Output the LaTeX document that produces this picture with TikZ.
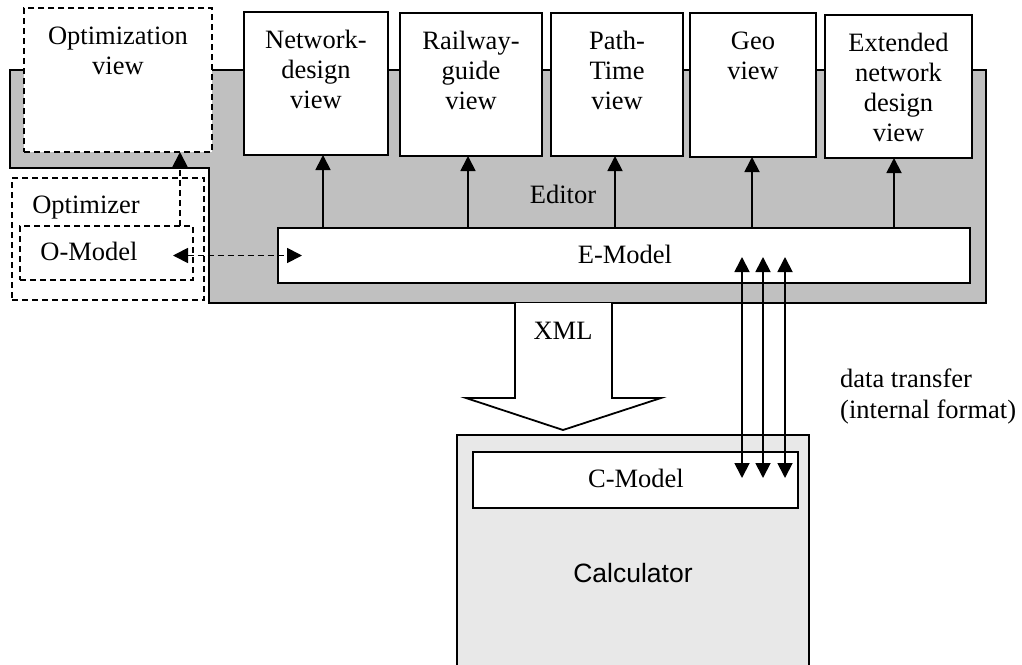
\documentclass[tikz,border=0pt]{standalone}
\usepackage{fontspec}
\setmainfont{Liberation Serif}
\setsansfont{Liberation Sans}
\usetikzlibrary{arrows.meta,calc}
\definecolor{editorgray}{HTML}{C0C0C0}
\definecolor{calcgray}{HTML}{E8E8E8}
\begin{document}
\begin{tikzpicture}[x=1pt,y=-1pt,
  font=\fontsize{26.5}{30}\selectfont,
  box/.style={draw, fill=white, rectangle, inner sep=0pt, outer sep=0pt, line width=2pt},
  dbox/.style={box, dash pattern=on 6pt off 4pt},
  obox/.style={draw, rectangle, inner sep=0pt, outer sep=0pt, line width=2pt, dash pattern=on 6pt off 4pt},
  txt/.style={inner sep=0pt, align=center},
  arr/.style={-{Triangle[length=15pt,width=15pt]}, line width=1.8pt},
  darr/.style={{Triangle[length=15pt,width=15pt]}-{Triangle[length=15pt,width=15pt]}, line width=1.8pt},
  dasharr/.style={arr, dash pattern=on 6pt off 4pt},
  ddasharr/.style={darr, dash pattern=on 6pt off 4pt}]
\useasboundingbox (0,0) rectangle (1022,664);

% Editor (gray region)
\draw[fill=editorgray, line width=2pt]
  (10,70) -- (986,70) -- (986,303) -- (209,303) -- (209,168) -- (10,168) -- cycle;

% Optimization view and optimizer
\node[dbox, minimum width=188pt, minimum height=144pt] (ov) at (118,80) {};
\node[txt, anchor=north] (ovt) at ($(ov.north)+(0,19)$) {Optimization\\view};
\node[obox, minimum width=192pt, minimum height=122pt] (opt) at (108,239) {};
\node[txt, anchor=base] (optt) at (86,213) {Optimizer};
\node[obox, minimum width=173pt, minimum height=54pt] (om) at (106.5,253) {};
\node[txt, anchor=base] (omt) at (89,260) {O-Model};

% Views
\node[box, minimum width=144pt, minimum height=143pt] (nd) at (316,83.5) {};
\node[txt, anchor=north] (ndt) at ($(nd.north)+(0,18)$) {Network-\\design\\view};
\node[box, minimum width=142pt, minimum height=143pt] (rg) at (471,84.5) {};
\node[txt, anchor=north] (rgt) at ($(rg.north)+(0,18)$) {Railway-\\guide\\view};
\node[box, minimum width=132pt, minimum height=143pt] (pt) at (617,84.5) {};
\node[txt, anchor=north] (ptt) at ($(pt.north)+(0,18)$) {Path-\\Time\\view};
\node[box, minimum width=126pt, minimum height=144pt] (geo) at (753,85) {};
\node[txt, anchor=north] (geot) at ($(geo.north)+(0,19)$) {Geo\\view};
\node[box, minimum width=147pt, minimum height=143pt] (ext) at (898.5,86.5) {};
\node[txt, anchor=north] (extt) at ($(ext.north)+(0,18)$) {Extended\\network\\design\\view};

\node[txt, anchor=base] (edt) at (563,203) {Editor};

% E-Model
\node[box, minimum width=692pt, minimum height=55pt] (em) at (624,255.5) {};
\node[txt, anchor=base] (emt) at (625,263) {E-Model};

% arrows E-Model -> views
\draw[arr] ($(em.north -| nd.south)+(7,0)$) -- ($(nd.south)+(7,0)$);
\draw[arr] ($(em.north -| rg.south)+(-3,0)$) -- ($(rg.south)+(-3,0)$);
\draw[arr] ($(em.north -| pt.south)+(-2,0)$) -- ($(pt.south)+(-2,0)$);
\draw[arr] ($(em.north -| geo.south)+(-1,0)$) -- ($(geo.south)+(-1,0)$);
\draw[arr] ($(em.north -| ext.south)+(-4.5,0)$) -- ($(ext.south)+(-4.5,0)$);

% dashed arrows
\draw[dasharr] (om.north -| 180,0) -- (ov.south -| 180,0);
\draw[ddasharr] ($(om.east |- em.west)+(-20,0)$) -- ($(em.west)+(24,0)$);

% XML arrow
\draw[fill=white, line width=1.8pt]
  (515,303) -- (515,398) -- (466,398) -- (563,430) -- (661,398) -- (612,398) -- (612,303);
\node[txt, anchor=base] (xml) at (563,339) {XML};

% Calculator
\begin{scope}
\clip (0,0) rectangle (1022,664);
\node[draw, fill=calcgray, rectangle, inner sep=0pt, line width=2pt,
  minimum width=352pt, minimum height=240pt] (calc) at (633,555) {};
\end{scope}
\node[txt, anchor=base, font=\sffamily\fontsize{26.5}{30}\selectfont] (calct) at (633,582) {Calculator};
\node[box, minimum width=325pt, minimum height=56pt] (cm) at (635.5,480) {};
\node[txt, anchor=base] (cmt) at (636,487) {C-Model};

% data transfer arrows
\draw[darr] ($(em.center -| 742,0)+(0,1.5)$) -- ($(cm.center -| 742,0)+(0,-2)$);
\draw[darr] ($(em.center -| 763,0)+(0,1.5)$) -- ($(cm.center -| 763,0)+(0,-2)$);
\draw[darr] ($(em.center -| 785,0)+(0,1.5)$) -- ($(cm.center -| 785,0)+(0,-2)$);
\node[inner sep=0pt, align=left, anchor=north west, font=\fontsize{26.5}{31}\selectfont] (dtt) at (840,369) {data transfer\\(internal format)};
\end{tikzpicture}
\end{document}
